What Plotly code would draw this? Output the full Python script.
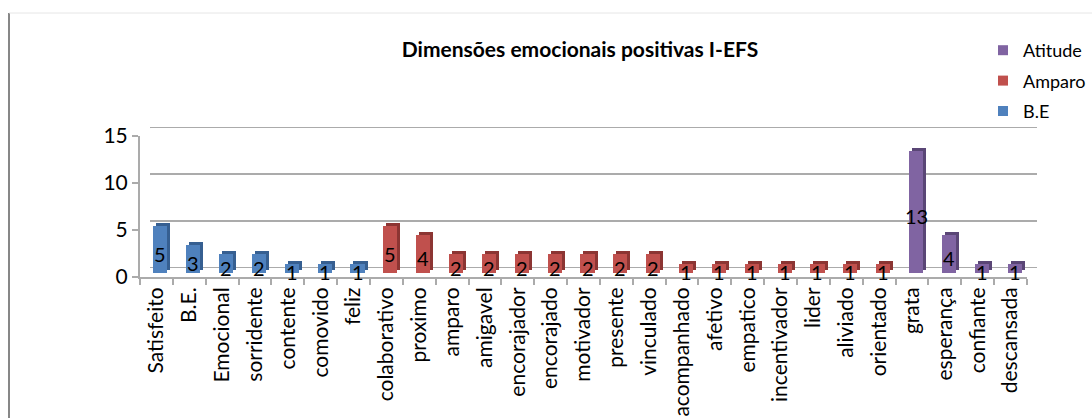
import plotly.graph_objects as go

# ---- data -------------------------------------------------------------
be_labels = ["Satisfeito", "B.E.", "Emocional", "sorridente", "contente", "comovido", "feliz"]
be_values = [5, 3, 2, 2, 1, 1, 1]

amparo_labels = ["colaborativo", "proximo", "amparo", "amigavel", "encorajador", "encorajado",
                 "motivador", "presente", "vinculado", "acompanhado", "afetivo", "empatico",
                 "incentivador", "lider", "aliviado", "orientado"]
amparo_values = [5, 4, 2, 2, 2, 2, 2, 2, 2, 1, 1, 1, 1, 1, 1, 1]

atitude_labels = ["grata", "esperança", "confiante", "descansada"]
atitude_values = [13, 4, 1, 1]

y_ticks = [0, 5, 10, 15]
title_text = "Dimensões emocionais positivas I-EFS"

# name, labels, values, face colour, depth colour, legend rank
series = [
    ("B.E", be_labels, be_values, "#4f81bd", "#365f91", 3),
    ("Amparo", amparo_labels, amparo_values, "#c0504d", "#8c3533", 2),
    ("Atitude", atitude_labels, atitude_values, "#8064a2", "#5a4676", 1),
]

categories = be_labels + amparo_labels + atitude_labels
n_cat = len(categories)

# ---- geometry of the pseudo-3D box (pixels) ---------------------------
W, H = 1092, 418
PL, PR, PT, PB = 140, 1037, 127, 277          # plot area
PW, PH = PR - PL, PB - PT
DEPTH_X, DEPTH_Y = 10, 9                      # front -> back wall offset
FACE_X, FACE_Y = 4, 4                         # front -> bar face offset
SIDE = 3                                      # bar depth
FRONT_W, FRONT_H = PW - DEPTH_X, PH - DEPTH_Y

FONT = "Lato, 'Open Sans', sans-serif"
GRID = "#ababab"


def dom_x(off):
    return [off / PW, (off + FRONT_W) / PW]


def dom_y(off):
    return [off / PH, (off + FRONT_H) / PH]


x_range = [-0.5, n_cat - 0.5]

fig = go.Figure()

# back wall axes (x / y) – holds the gridlines
fig.add_trace(go.Scatter(x=[x_range[0]], y=[0], mode="markers", marker=dict(opacity=0),
                         hoverinfo="skip", showlegend=False, xaxis="x", yaxis="y"))

# bar depth (x2 / y2)
pos = 0
for name, labels, values, color, dark, rank in series:
    xs = list(range(pos, pos + len(labels)))
    fig.add_trace(go.Bar(x=xs, y=values, width=0.43, marker=dict(color=dark, line=dict(width=0)),
                         showlegend=False, hoverinfo="skip", xaxis="x2", yaxis="y2"))
    pos += len(labels)

# bar faces (x3 / y3) with value labels
pos = 0
for name, labels, values, color, dark, rank in series:
    xs = list(range(pos, pos + len(labels)))
    fig.add_trace(go.Bar(x=xs, y=values, width=0.43, name=name, showlegend=False,
                         marker=dict(color=color, line=dict(width=0)),
                         xaxis="x3", yaxis="y3"))
    # legend entry with a small square key
    fig.add_trace(go.Scatter(x=[None], y=[None], mode="markers", name=name, legendgroup=name,
                             legendrank=rank, marker=dict(symbol="square", size=10, color=color),
                             xaxis="x3", yaxis="y3"))
    for xi, v in zip(xs, values):
        fig.add_annotation(x=xi, y=v / 2, xref="x3", yref="y3", yshift=-4, text=str(v),
                           showarrow=False, font=dict(family=FONT, size=20, color="black"))
    pos += len(labels)

# front axes (x4 / y4) – category labels and value ticks
fig.add_trace(go.Scatter(x=categories, y=[0] * n_cat, mode="markers", marker=dict(opacity=0),
                         hoverinfo="skip", showlegend=False, xaxis="x4", yaxis="y4"))

hidden = dict(showgrid=False, zeroline=False, showticklabels=False, ticks="", showline=False)

fig.update_layout(
    width=W, height=H,
    margin=dict(l=PL, r=W - PR, t=PT, b=H - PB, pad=0, autoexpand=False),
    paper_bgcolor="white", plot_bgcolor="rgba(0,0,0,0)",
    barmode="overlay", bargap=0,
    showlegend=True,
    font=dict(family=FONT, color="black"),
    title=dict(text=f"<b>{title_text}</b>", x=(580 - PL) / PW, xref="paper", xanchor="center",
               y=1 - 50 / H, yref="container", yanchor="middle",
               font=dict(family=FONT, size=21, color="black")),
    legend=dict(x=(983 - PL) / PW, xanchor="left", y=1 - 32 / H, yref="container", yanchor="top",
                tracegroupgap=4, itemwidth=30,
                font=dict(family=FONT, size=18, color="black"),
                bgcolor="rgba(0,0,0,0)", itemclick=False),
    xaxis=dict(domain=[DEPTH_X / PW, 1], range=x_range, anchor="y", **hidden),
    yaxis=dict(domain=[DEPTH_Y / PH, 1], range=[0, 15], anchor="x", **hidden),
    xaxis2=dict(domain=dom_x(FACE_X + SIDE), range=x_range, anchor="y2", **hidden),
    yaxis2=dict(domain=dom_y(FACE_Y + SIDE), range=[0, 15], anchor="x2", **hidden),
    xaxis3=dict(domain=dom_x(FACE_X), range=x_range, anchor="y3", **hidden),
    yaxis3=dict(domain=dom_y(FACE_Y), range=[0, 15], anchor="x3", **hidden),
    xaxis4=dict(domain=dom_x(0), range=x_range, anchor="y4", type="category",
                categoryorder="array", categoryarray=categories,
                showgrid=False, zeroline=False, showline=True, linecolor=GRID, linewidth=2,
                ticks="outside", ticklen=6, tickcolor=GRID, tickwidth=2, tickson="boundaries",
                tickangle=-90, tickfont=dict(family=FONT, size=21, color="black")),
    yaxis4=dict(domain=dom_y(0), range=[0, 15], anchor="x4", tickvals=y_ticks,
                showgrid=False, zeroline=False, showline=True, linecolor=GRID, linewidth=2,
                ticks="outside", ticklen=6, tickcolor=GRID, tickwidth=2,
                tickfont=dict(family=FONT, size=21, color="black")),
)

shapes = []
# back-wall gridlines plus the diagonal joining each front tick to the wall
for v in y_ticks:
    shapes.append(dict(type="line", xref="x", yref="y", x0=x_range[0], x1=x_range[1], y0=v, y1=v,
                       line=dict(color=GRID, width=2), layer="below"))
    shapes.append(dict(type="line", xref="x", yref="y", xsizemode="pixel", ysizemode="pixel",
                       xanchor=x_range[0], yanchor=v, x0=-DEPTH_X, x1=0, y0=-DEPTH_Y, y1=0,
                       line=dict(color=GRID, width=2), layer="below"))
# right edge of the floor
shapes.append(dict(type="line", xref="x", yref="y", xsizemode="pixel", ysizemode="pixel",
                   xanchor=x_range[1], yanchor=0, x0=-DEPTH_X, x1=0, y0=-DEPTH_Y, y1=0,
                   line=dict(color=GRID, width=2), layer="below"))


def paper_x(p):
    return (p - PL) / PW


def paper_y(p):
    return (PB - p) / PH


# chart frame: left rule and faint top rule
shapes.append(dict(type="line", xref="paper", yref="paper", x0=paper_x(9), x1=paper_x(9),
                   y0=paper_y(13), y1=paper_y(H + 2), line=dict(color="#878787", width=2)))
shapes.append(dict(type="line", xref="paper", yref="paper", x0=paper_x(9), x1=paper_x(W + 2),
                   y0=paper_y(13), y1=paper_y(13), line=dict(color="#e6e6e6", width=1)))
fig.update_layout(shapes=shapes)

fig.write_html("out.html")
